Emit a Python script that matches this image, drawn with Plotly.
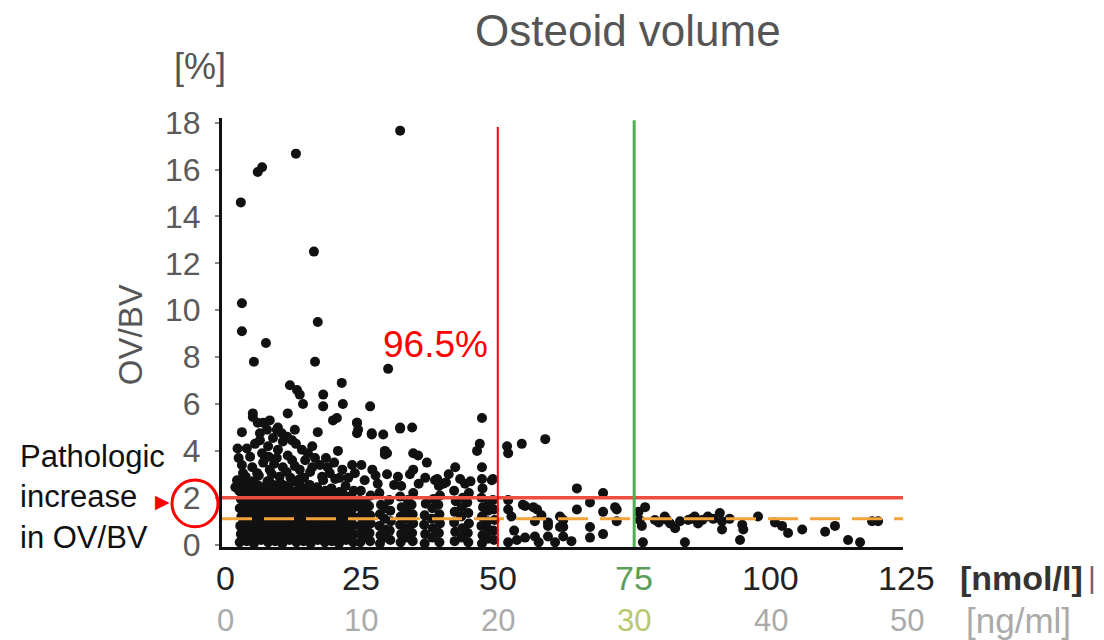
import plotly.graph_objects as go

# ---------------- data ----------------
# outliers / high values  (x: 25(OH)D nmol/l, y: OV/BV %)
out_x = [32.1, 13.0, 6.0, 6.8, 2.9, 16.3, 3.1, 17.0, 3.1, 7.5, 5.3, 16.5, 29.9, 11.9, 13.2,
         13.7, 14.3, 18.0, 18.0, 21.4, 21.6, 26.6, 5.1, 11.5, 19.8, 20.5, 24.2, 47.1]
out_y = [17.66, 16.68, 15.9, 16.1, 14.6, 12.5, 10.3, 9.5, 9.1, 8.6, 7.8, 7.8, 7.5, 6.8, 6.6,
         6.4, 6.0, 6.4, 5.9, 6.9, 6.0, 5.9, 5.6, 5.6, 5.3, 5.4, 5.2, 5.4]

# middle band (about 2.2 - 5.5 %)
mid_x = [3.1, 6.0, 7.7, 9.5, 11.4, 12.8, 17.0, 24.4, 26.9, 29.0, 32.1, 34.3, 46.7, 46.2, 51.7,
         54.4, 58.7, 20.7, 23.3, 29.3, 34.5, 37.0, 42.2, 43.1, 47.1, 47.1, 38.9, 49.1, 51.9, 64.5,
         69.3, 5.1, 7.0, 8.2, 6.4, 9.7, 10.4, 6.4, 8.8, 10.6, 12.3, 7.9, 9.7, 14.1, 15.2,
         4.6, 7.3, 9.5, 12.3, 14.7, 16.5, 17.4, 3.1, 3.3, 5.9, 8.2, 10.6, 13.7, 15.6, 19.2,
         23.8, 25.6, 29.7, 31.7, 33.9, 36.7, 38.5, 48.9, 29.7, 35.4, 34.5, 24.2, 24.2, 26.9, 29.3,
         32.1, 2.4, 1.9, 5.1, 9.7, 13.7, 18.0, 21.0, 27.6, 44.0, 40.5]
mid_y = [4.8, 5.2, 4.9, 4.9, 4.6, 4.9, 4.8, 4.9, 4.7, 4.7, 5.0, 5.0, 4.3, 4.0, 4.2,
         4.3, 4.5, 4.0, 3.4, 4.0, 3.9, 3.5, 3.3, 2.8, 3.3, 2.8, 2.8, 2.8, 3.9, 2.4,
         2.2, 5.45, 5.2, 5.3, 4.75, 5.0, 4.75, 4.45, 4.55, 4.4, 4.45, 4.2, 4.05, 4.05, 3.9,
         3.75, 3.75, 3.7, 3.6, 3.6, 3.7, 3.4, 3.4, 3.05, 3.05, 3.2, 3.3, 3.2, 3.1, 3.05,
         3.05, 2.75, 3.0, 2.9, 3.0, 2.85, 2.75, 2.75, 3.9, 3.8, 3.2, 5.2, 4.75, 4.75, 3.85,
         4.95, 2.7, 2.45, 2.7, 2.55, 2.8, 2.75, 2.85, 2.95, 2.6, 2.65]

# more points in the 2.5 - 4.3 % band
band_x = [3.8, 5.0, 6.2, 7.0, 8.6, 9.0, 10.0, 11.3, 12.0, 12.8, 14.5, 16.0, 17.8, 18.8, 20.2,
          21.5, 22.6, 4.0, 5.5, 11.5, 13.0, 16.0, 18.5, 20.0, 2.5, 6.8, 8.0, 25.0, 27.0, 28.0,
          31.0, 35.5, 40.0, 41.0, 45.0, 2.3]
band_y = [2.9, 3.3, 2.95, 3.5, 3.0, 3.45, 2.9, 3.1, 2.85, 3.35, 2.85, 3.3, 2.9, 3.3, 2.8,
          3.2, 2.85, 4.1, 4.3, 3.8, 4.3, 4.2, 3.7, 3.5, 3.7, 3.9, 3.75, 3.4, 3.2, 2.6,
          2.55, 2.6, 2.6, 3.0, 2.7, 4.1]

# dense band (0 - 2.7 %, below 50 nmol/l)
low_x = [2.7, 2.9, 2.8, 3.0, 2.7, 2.9, 2.6, 2.2,
         4.0, 4.2, 4.1, 3.9, 4.2, 4.0, 4.3,
         5.3, 5.4, 5.2, 5.5, 5.3, 5.2, 5.4, 5.1,
         6.6, 6.5, 6.7, 6.6, 6.8, 6.5, 6.7,
         7.9, 8.0, 7.8, 8.1, 7.9, 7.7, 8.0, 7.8,
         9.2, 9.1, 9.3, 9.2, 9.0, 9.3, 9.1,
         10.5, 10.6, 10.4, 10.5, 10.7, 10.4, 10.6, 10.3,
         11.8, 11.7, 11.9, 11.8, 11.6, 11.9, 11.7,
         13.1, 13.2, 13.0, 13.1, 13.3, 13.0, 13.2, 12.9,
         14.4, 14.3, 14.5, 14.4, 14.2, 14.5, 14.3,
         15.7, 15.8, 15.6, 15.7, 15.9, 15.6, 15.8, 15.5,
         17.0, 16.9, 17.1, 17.0, 16.8, 17.1, 16.9,
         18.3, 18.4, 18.2, 18.3, 18.5, 18.2, 18.4,
         19.6, 19.5, 19.7, 19.6, 19.4, 19.7, 19.5,
         20.9, 21.0, 20.8, 20.9, 21.1, 20.8, 21.0,
         22.2, 22.1, 22.3, 22.2, 22.0, 22.3, 22.1,
         23.5, 23.6, 23.4, 23.5, 23.7, 23.4, 23.6,
         24.8, 24.9, 24.7, 24.8, 25.0, 24.7, 24.9,
         26.6, 26.5, 26.7, 26.6, 26.4, 26.7,
         28.4, 28.5, 28.3, 28.4, 28.6, 28.3,
         30.3, 30.2, 30.4, 30.3, 30.1,
         32.2, 32.3, 32.1, 32.2, 32.4, 32.1, 32.3,
         34.4, 34.3, 34.5, 34.4, 34.2, 34.5,
         36.6, 36.7, 36.5, 36.6, 36.8,
         39.3, 39.2, 39.4, 39.3, 39.1, 39.4, 39.2,
         42.1, 42.2, 42.0, 42.1, 42.3, 42.0,
         44.6, 44.5, 44.7, 44.6, 44.4, 44.7,
         47.1, 47.2, 47.0, 47.1, 47.3, 47.0, 47.2,
         49.3, 49.2, 49.4, 49.3, 49.1]
low_y = [0.1, 0.45, 0.8, 1.2, 1.55, 1.95, 2.3, 2.75,
         0.15, 0.5, 0.9, 1.25, 1.6, 2.0, 2.4,
         0.05, 0.4, 0.75, 1.1, 1.5, 1.85, 2.2, 2.6,
         0.2, 0.55, 0.95, 1.3, 1.7, 2.05, 2.45,
         0.1, 0.45, 0.8, 1.15, 1.55, 1.9, 2.3, 2.7,
         0.15, 0.5, 0.85, 1.25, 1.6, 2.0, 2.35,
         0.05, 0.4, 0.8, 1.15, 1.5, 1.9, 2.25, 2.6,
         0.2, 0.55, 0.9, 1.3, 1.65, 2.05, 2.45,
         0.1, 0.45, 0.85, 1.2, 1.55, 1.95, 2.3, 2.7,
         0.15, 0.5, 0.9, 1.25, 1.6, 2.0, 2.4,
         0.05, 0.4, 0.75, 1.1, 1.5, 1.85, 2.2, 2.55,
         0.2, 0.55, 0.95, 1.3, 1.7, 2.05, 2.45,
         0.1, 0.45, 0.8, 1.2, 1.55, 1.9, 2.3,
         0.15, 0.5, 0.9, 1.25, 1.65, 2.0, 2.4,
         0.05, 0.4, 0.8, 1.15, 1.5, 1.9, 2.25,
         0.2, 0.55, 0.9, 1.3, 1.65, 2.05, 2.5,
         0.1, 0.45, 0.85, 1.2, 1.6, 1.95, 2.3,
         0.1, 0.45, 0.8, 1.2, 1.55, 1.9, 2.3,
         0.15, 0.5, 0.9, 1.25, 1.65, 2.1,
         0.05, 0.4, 0.8, 1.3, 1.7, 2.2,
         0.2, 0.6, 1.0, 1.45, 1.9,
         0.1, 0.45, 0.85, 1.2, 1.6, 2.05, 2.5,
         0.15, 0.5, 0.9, 1.3, 1.7, 2.2,
         0.05, 0.45, 0.85, 1.25, 1.75,
         0.1, 0.5, 0.9, 1.3, 1.7, 2.1, 2.5,
         0.15, 0.55, 0.95, 1.4, 1.85, 2.3,
         0.1, 0.5, 0.9, 1.35, 1.8, 2.2,
         0.05, 0.4, 0.8, 1.2, 1.6, 2.0, 2.4,
         0.2, 0.6, 1.05, 1.5, 1.9]

# further points interleaved in the dense band
fill_x = [3.4, 3.5, 3.4, 3.3, 3.5, 3.4, 3.6,
          4.7, 4.8, 4.6, 4.7, 4.9, 4.7,
          6.0, 6.1, 5.9, 6.0, 6.2, 6.0, 5.9,
          7.3, 7.4, 7.2, 7.3, 7.5, 7.3,
          8.6, 8.7, 8.5, 8.6, 8.8, 8.6, 8.5,
          9.9, 10.0, 9.8, 9.9, 10.1, 9.9,
          11.2, 11.3, 11.1, 11.2, 11.4, 11.2, 11.1,
          12.5, 12.6, 12.4, 12.5, 12.7, 12.5,
          13.8, 13.9, 13.7, 13.8, 14.0, 13.8, 13.7,
          15.1, 15.2, 15.0, 15.1, 15.3, 15.1,
          16.4, 16.5, 16.3, 16.4, 16.6, 16.4,
          17.7, 17.8, 17.6, 17.7, 17.9, 17.7,
          19.0, 19.1, 18.9, 19.0, 19.2, 19.0,
          20.3, 20.4, 20.2, 20.3, 20.5, 20.3,
          21.6, 21.7, 21.5, 21.6, 21.8, 21.6,
          22.9, 23.0, 22.8, 22.9, 23.1,
          25.7, 25.8, 25.6, 25.7, 25.9,
          29.3, 29.4, 29.2, 29.3,
          33.3, 33.4, 33.2, 33.3, 33.5,
          38.0, 38.1, 37.9, 38.0, 38.2,
          43.4, 43.5, 43.3, 43.4, 43.6,
          48.2, 48.3, 48.1, 48.2, 48.4]
fill_y = [0.3, 0.65, 1.0, 1.4, 1.75, 2.15, 2.55,
          0.25, 0.6, 1.05, 1.4, 1.8, 2.2,
          0.3, 0.65, 1.0, 1.45, 1.75, 2.15, 2.55,
          0.25, 0.7, 1.05, 1.4, 1.8, 2.2,
          0.3, 0.65, 1.0, 1.4, 1.75, 2.15, 2.6,
          0.25, 0.6, 1.05, 1.45, 1.8, 2.2,
          0.3, 0.7, 1.0, 1.4, 1.75, 2.15, 2.5,
          0.25, 0.65, 1.05, 1.4, 1.8, 2.2,
          0.3, 0.6, 1.0, 1.45, 1.75, 2.15, 2.55,
          0.25, 0.7, 1.05, 1.4, 1.8, 2.2,
          0.3, 0.65, 1.0, 1.4, 1.75, 2.15,
          0.25, 0.6, 1.05, 1.45, 1.8, 2.2,
          0.3, 0.7, 1.0, 1.4, 1.75, 2.15,
          0.25, 0.65, 1.05, 1.4, 1.8, 2.2,
          0.3, 0.6, 1.0, 1.45, 1.75, 2.15,
          0.25, 0.7, 1.05, 1.4, 1.8,
          0.3, 0.65, 1.0, 1.4, 1.75,
          0.3, 0.65, 1.1, 1.55,
          0.3, 0.7, 1.1, 1.5, 1.9,
          0.3, 0.7, 1.1, 1.55, 1.95,
          0.3, 0.7, 1.2, 1.6, 2.0,
          0.25, 0.65, 1.0, 1.45, 1.8]

# above 50 nmol/l
right_x = [51.9, 51.9, 55.0, 57.2, 64.5, 66.9, 69.3, 71.8, 71.8, 56.8, 59.2, 62.0, 62.0, 62.0,
           66.9, 66.9, 69.3, 56.8, 59.2, 51.9, 55.0, 54.6, 56.5, 61.4, 61.4, 59.2, 53.5, 57.5,
           60.5, 63.5, 71.5, 52.5, 53.0, 58.0,
           77.0, 76.0, 76.4, 78.8, 80.6, 81.6, 82.5, 83.4, 84.9, 86.1, 86.7, 88.5, 90.7, 91.1,
           91.1, 94.8, 95.0, 97.7, 100.8, 102.1, 103.2, 105.8, 110.0, 111.8, 118.6, 119.7,
           76.6, 84.3, 94.4, 114.2, 116.4, 79.5, 85.5, 87.5, 89.5, 92.5, 81.0, 75.8]
right_y = [1.9, 1.5, 1.65, 1.5, 1.5, 1.8, 1.4, 1.5, 1.0, 1.0, 0.95, 1.05, 0.75, 0.35,
           0.75, 0.3, 0.45, 0.35, 0.35, 0.1, 0.3, 1.7, 1.6, 1.2, 0.75, 0.8, 0.2, 0.1,
           0.1, 0.15, 1.6, 1.2, 0.6, 1.25,
           1.6, 1.05, 0.8, 1.05, 1.2, 0.9, 0.7, 1.0, 1.05, 1.2, 0.9, 1.2, 1.35, 1.0,
           0.65, 0.85, 0.65, 1.2, 0.95, 0.8, 0.5, 0.65, 0.55, 0.8, 1.0, 1.0,
           0.1, 0.1, 0.2, 0.2, 0.1, 0.95, 1.1, 1.05, 1.1, 1.1, 1.05, 1.4]

nmol_ticks = [0, 25, 50, 75, 100, 125]
ngml_ticks = ["0", "10", "20", "30", "40", "50"]
y_ticks = [0, 2, 4, 6, 8, 10, 12, 14, 16, 18]

patho_limit = 2.0      # red horizontal line
median_line = 1.1      # orange dashed line
red_cut = 50           # red vertical line
green_cut = 75         # green vertical line
pct_label = "96.5%"

# ---------------- figure ----------------
FONT = "Arial, Liberation Sans, sans-serif"
all_x = out_x + mid_x + band_x + low_x + fill_x + right_x
all_y = out_y + mid_y + band_y + low_y + fill_y + right_y

fig = go.Figure()
fig.add_trace(go.Scatter(x=all_x, y=all_y, mode="markers",
                         marker=dict(size=10, color="#111111", line=dict(width=0)),
                         hoverinfo="x+y", showlegend=False))

XR = [-0.55, 124.27]
YR = [-0.1, 18.2]

def xpaper(v):
    return (v - XR[0]) / (XR[1] - XR[0])

shapes = [
    dict(type="line", xref="x", yref="y", x0=XR[0], x1=XR[1], y0=patho_limit, y1=patho_limit,
         line=dict(color="#ec4f3d", width=3.5), layer="above"),
    dict(type="line", xref="x", yref="y", x0=XR[0], x1=XR[1], y0=median_line, y1=median_line,
         line=dict(color="#f2a33a", width=3, dash="30px,12px"), layer="above"),
    dict(type="line", xref="x", yref="y", x0=red_cut, x1=red_cut, y0=YR[0], y1=17.82,
         line=dict(color="#ff0000", width=2), layer="above"),
    dict(type="line", xref="x", yref="y", x0=green_cut, x1=green_cut, y0=YR[0], y1=18.1,
         line=dict(color="#4cb050", width=3), layer="above"),
    dict(type="circle", xref="paper", yref="paper", x0=-0.0734, x1=-0.0059, y0=0.047, y1=0.156,
         line=dict(color="#ff0000", width=3)),
]

ann = []
ann.append(dict(text="Osteoid volume", xref="paper", yref="paper", x=0.596, y=1.205,
                xanchor="center", yanchor="middle", showarrow=False,
                font=dict(family=FONT, size=44, color="#555555")))
ann.append(dict(text="[%]", xref="paper", yref="paper", x=-0.032, y=1.119,
                xanchor="center", yanchor="middle", showarrow=False,
                font=dict(family=FONT, size=36, color="#555555")))
ann.append(dict(text="OV/BV", xref="paper", yref="paper", x=-0.135, y=0.494, textangle=-90,
                xanchor="center", yanchor="middle", showarrow=False,
                font=dict(family=FONT, size=33, color="#555555")))
ann.append(dict(text=pct_label, xref="x", yref="y", x=48.6, y=8.52,
                xanchor="right", yanchor="middle", showarrow=False,
                font=dict(family=FONT, size=37, color="#ff0000")))
row1_colors = ["#222222", "#222222", "#222222", "#5a9e5a", "#222222", "#222222"]
row2_colors = ["#aaaaaa", "#aaaaaa", "#aaaaaa", "#b8c86a", "#aaaaaa", "#aaaaaa"]
for v, c in zip(nmol_ticks, row1_colors):
    ann.append(dict(text=str(v), xref="paper", yref="paper", x=xpaper(v), y=-0.072,
                    xanchor="center", yanchor="middle", showarrow=False,
                    font=dict(family=FONT, size=34, color=c)))
for v, t, c in zip(nmol_ticks, ngml_ticks, row2_colors):
    ann.append(dict(text=t, xref="paper", yref="paper", x=xpaper(v), y=-0.172,
                    xanchor="center", yanchor="middle", showarrow=False,
                    font=dict(family=FONT, size=31, color=c)))
ann.append(dict(text="<b>[nmol/l]</b>", xref="paper", yref="paper", x=1.081, y=-0.072,
                xanchor="left", yanchor="middle", showarrow=False,
                font=dict(family=FONT, size=34, color="#333333")))
ann.append(dict(text="|", xref="paper", yref="paper", x=1.268, y=-0.072,
                xanchor="left", yanchor="middle", showarrow=False,
                font=dict(family=FONT, size=30, color="#666666")))
ann.append(dict(text="[ng/ml]", xref="paper", yref="paper", x=1.089, y=-0.172,
                xanchor="left", yanchor="middle", showarrow=False,
                font=dict(family=FONT, size=35, color="#aaaaaa")))
ann.append(dict(text="Pathologic<br>increase<br>in OV/BV", xref="paper", yref="paper",
                x=-0.2996, y=0.1166, xanchor="left", yanchor="middle", align="left",
                showarrow=False, font=dict(family=FONT, size=31, color="#111111")))
ann.append(dict(text="\u25B6", xref="paper", yref="paper", x=-0.088, y=0.107,
                xanchor="center", yanchor="middle", showarrow=False,
                font=dict(family="DejaVu Sans", size=19, color="#ff0000")))

fig.update_layout(
    width=1104, height=640,
    margin=dict(l=222, r=201, t=118, b=93, pad=0),
    paper_bgcolor="white", plot_bgcolor="white",
    shapes=shapes, annotations=ann,
    xaxis=dict(range=XR, showgrid=False, zeroline=False, showline=True, linecolor="#111111",
               linewidth=3, showticklabels=False, ticks="", fixedrange=True),
    yaxis=dict(range=YR, showgrid=False, zeroline=False, showline=True, linecolor="#111111",
               linewidth=3, tickvals=y_ticks, ticks="outside", ticklen=4, tickwidth=2,
               tickcolor="#888888", ticklabelstandoff=8,
               tickfont=dict(family=FONT, size=32, color="#5a5a5a"), fixedrange=True),
)

fig.write_html("out.html")
